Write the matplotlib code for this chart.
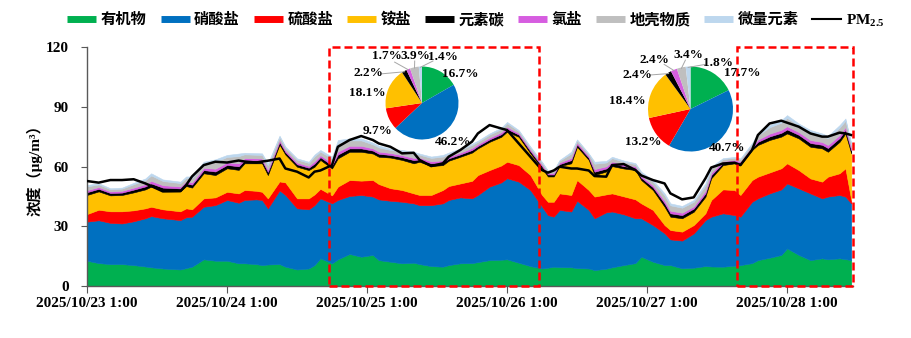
import numpy as np
import matplotlib
matplotlib.use('Agg')
import matplotlib.pyplot as plt
from matplotlib.lines import Line2D
from matplotlib.patches import Rectangle

plt.rcParams['font.family'] = ['Liberation Serif', 'Noto Sans CJK SC']
plt.rcParams['font.weight'] = 'bold'
plt.rcParams['mathtext.fontset'] = 'custom'
plt.rcParams['mathtext.rm'] = 'Liberation Serif:bold'
plt.rcParams['mathtext.bf'] = 'Liberation Serif:bold'

# hours after 2025/10/23 1:00
hours = [0, 2, 4, 6, 8, 10, 11, 13, 16, 17, 18, 20, 22, 24, 26, 27, 29, 30, 31, 33,
         34, 36, 38, 39, 40, 42, 43, 45, 47, 49, 50, 52, 54, 56, 57, 59, 61, 62, 64, 66,
         67, 69, 71, 72, 74, 76, 78, 79, 80, 81, 83, 84, 86, 87, 89, 90, 92, 94, 95, 97,
         99, 100, 102, 104, 106, 107, 109, 111, 112, 114, 115, 117, 119, 120, 122, 124, 126, 127, 129, 130,
         131]

organic = [12.7, 11.5, 11.0, 11.0, 10.5, 9.8, 9.4, 8.8, 8.3, 9.0, 9.7, 13.4, 12.7, 12.7, 11.4, 11.4, 11.0, 10.5, 10.8, 11.0,
           9.7, 8.3, 8.8, 10.5, 13.9, 11.4, 13.4, 16.1, 14.7, 15.6, 13.0, 12.2, 11.4, 11.7, 11.0, 10.0, 9.7, 10.5, 11.4, 11.5,
           12.0, 13.0, 13.2, 13.4, 11.7, 10.0, 8.8, 9.2, 9.7, 9.5, 9.4, 9.0, 8.8, 8.0, 8.7, 9.4, 10.5, 11.5, 14.7, 12.2,
           10.5, 10.5, 8.9, 9.2, 10.0, 9.8, 9.7, 10.2, 10.5, 11.5, 13.0, 14.2, 15.6, 18.9, 15.6, 13.0, 13.9, 13.4, 13.9, 13.5,
           13.0]
nitrate = [19.6, 21.5, 20.7, 20.4, 22.0, 24.2, 25.7, 25.2, 24.8, 25.5, 25.1, 26.4, 27.9, 30.5, 30.4, 31.8, 32.5, 32.7, 28.2, 37.0,
           36.0, 30.7, 29.7, 30.1, 30.1, 30.1, 29.8, 29.1, 31.0, 29.3, 30.5, 30.6, 30.9, 29.8, 29.6, 30.6, 31.8, 32.7, 33.1, 32.5,
           33.7, 36.9, 38.8, 40.7, 40.7, 38.2, 31.0, 26.4, 25.1, 28.7, 28.0, 33.8, 29.4, 26.0, 28.3, 28.0, 25.5, 22.5, 19.3, 18.4,
           16.0, 12.9, 13.9, 17.2, 23.1, 25.0, 26.8, 25.4, 24.3, 30.8, 31.0, 32.3, 32.9, 32.6, 33.4, 33.5, 30.1, 31.5, 31.8, 31.4,
           28.5]
sulfate = [3.8, 5.3, 5.8, 6.1, 5.5, 5.0, 4.7, 4.5, 4.4, 4.5, 3.7, 4.2, 3.9, 4.1, 4.7, 5.0, 4.3, 4.1, 5.0, 4.5,
           6.3, 5.0, 5.5, 5.4, 4.8, 4.0, 6.7, 8.0, 7.2, 8.3, 7.7, 6.3, 5.9, 5.0, 5.1, 5.1, 6.7, 7.0, 7.0, 8.8,
           10.0, 8.3, 8.5, 8.3, 8.3, 7.5, 5.9, 6.7, 7.5, 8.3, 8.3, 10.4, 10.0, 10.9, 9.0, 9.1, 9.0, 9.5, 7.5, 7.6,
           4.1, 4.7, 4.5, 4.2, 3.4, 8.4, 12.0, 12.6, 10.9, 10.9, 10.9, 10.5, 10.6, 10.1, 9.2, 7.5, 8.4, 10.0, 10.9, 14.2,
           1.7]
ammonium = [9.6, 9.2, 8.0, 8.2, 9.0, 9.5, 10.1, 9.4, 10.1, 11.2, 10.9, 12.6, 11.2, 11.8, 11.8, 13.4, 13.8, 14.3, 11.7, 18.5,
            14.0, 15.9, 14.2, 13.9, 14.5, 13.5, 14.2, 14.2, 14.5, 13.3, 13.7, 15.4, 15.1, 15.1, 16.7, 14.5, 12.5, 12.7, 13.4, 14.2,
            13.4, 14.2, 14.4, 15.1, 14.2, 10.9, 13.4, 12.7, 12.7, 13.7, 15.9, 16.7, 15.1, 10.8, 11.5, 13.7, 14.0, 14.7, 11.7, 10.0,
            9.2, 6.7, 6.7, 6.7, 8.3, 10.9, 12.2, 13.4, 15.0, 15.1, 15.9, 16.3, 15.9, 15.0, 15.9, 15.9, 16.7, 12.5, 15.8, 17.5,
            23.4]
ec = [1.4, 1.3, 1.2, 1.2, 1.4, 1.5, 1.6, 1.5, 1.4, 1.4, 1.5, 1.6, 1.8, 1.7, 1.8, 1.5, 1.5, 1.4, 1.6, 1.3,
      1.2, 1.2, 1.2, 1.6, 1.4, 1.6, 1.9, 1.7, 1.7, 1.5, 1.5, 1.3, 1.4, 1.6, 1.2, 1.4, 1.4, 1.2, 1.2, 1.3,
      1.2, 1.2, 1.3, 1.4, 1.1, 1.1, 1.0, 1.0, 1.0, 1.0, 1.6, 1.2, 1.1, 1.7, 1.5, 1.3, 1.2, 1.1, 1.2, 1.4,
      1.7, 1.7, 1.6, 1.6, 1.7, 1.6, 1.1, 1.0, 1.1, 1.1, 1.6, 1.8, 1.9, 2.0, 1.8, 1.9, 1.8, 1.9, 1.9, 1.8,
      1.5]
chloride = [1.0, 0.9, 0.8, 0.9, 1.0, 1.1, 1.3, 1.2, 1.0, 1.0, 1.1, 1.1, 1.4, 1.3, 1.5, 1.1, 1.0, 1.0, 1.1, 1.0,
            0.9, 0.9, 0.9, 1.2, 1.0, 1.1, 1.5, 1.3, 1.3, 1.1, 1.1, 1.0, 1.0, 1.1, 0.9, 1.0, 1.0, 0.9, 0.9, 1.0,
            0.9, 0.9, 1.0, 1.0, 0.8, 0.8, 0.8, 0.7, 0.8, 0.8, 1.1, 0.9, 0.8, 1.3, 1.1, 1.0, 0.9, 0.8, 0.9, 1.0,
            1.3, 1.3, 1.2, 1.1, 1.3, 1.1, 0.8, 0.8, 0.8, 0.8, 1.1, 1.4, 1.5, 1.6, 1.4, 1.5, 1.4, 1.5, 1.5, 1.4,
            1.2]
crustal = [1.9, 1.3, 1.1, 1.1, 1.7, 2.0, 2.7, 2.1, 1.7, 1.7, 2.1, 2.2, 3.4, 2.7, 3.6, 1.9, 1.8, 1.8, 2.3, 1.5,
           1.3, 1.5, 1.5, 2.4, 1.8, 2.3, 4.3, 2.7, 2.7, 2.0, 2.1, 1.5, 1.8, 2.2, 1.4, 1.7, 1.9, 1.4, 1.5, 1.5,
           1.2, 1.5, 1.6, 1.8, 1.0, 1.0, 1.0, 0.9, 1.0, 0.9, 2.2, 1.1, 1.0, 2.7, 1.9, 1.7, 1.3, 1.1, 1.5, 1.8,
           2.7, 2.7, 2.5, 2.3, 2.7, 2.2, 1.1, 1.0, 1.0, 1.1, 2.2, 3.2, 3.6, 4.2, 3.2, 3.7, 3.2, 3.4, 3.7, 3.2,
           1.6]
trace = [0.7, 0.6, 0.5, 0.5, 0.7, 0.9, 1.1, 0.8, 0.7, 0.7, 0.9, 0.9, 1.3, 1.0, 1.3, 0.8, 0.8, 0.8, 0.9, 0.7,
         0.6, 0.6, 0.6, 0.9, 0.8, 0.9, 1.5, 1.0, 1.0, 0.9, 0.9, 0.7, 0.8, 0.9, 0.6, 0.7, 0.8, 0.6, 0.6, 0.7,
         0.6, 0.6, 0.7, 0.7, 0.5, 0.5, 0.4, 0.4, 0.4, 0.4, 0.9, 0.5, 0.4, 1.0, 0.8, 0.7, 0.6, 0.5, 0.6, 0.8,
         1.0, 1.0, 0.9, 0.9, 1.0, 0.9, 0.5, 0.4, 0.5, 0.5, 0.9, 1.1, 1.3, 1.4, 1.1, 1.3, 1.1, 1.2, 1.3, 1.1,
         0.7]
pm25 = [52.7, 51.9, 53.2, 53.2, 53.6, 51.5, 50.2, 47.5, 47.6, 50.7, 55.0, 60.7, 62.4, 62.0, 63.0, 62.5, 62.0, 62.5, 62.9, 64.0,
        59.0, 57.4, 54.5, 57.4, 58.0, 60.7, 69.9, 73.3, 75.3, 73.3, 71.6, 69.9, 66.6, 66.9, 63.3, 60.2, 61.6, 64.9, 68.3, 72.5,
        76.6, 80.8, 79.1, 78.3, 71.6, 64.9, 58.2, 56.9, 58.0, 59.9, 59.0, 59.0, 58.0, 55.2, 54.9, 60.7, 61.2, 58.2, 55.5, 53.2,
        51.5, 46.5, 43.5, 44.5, 54.0, 59.5, 61.5, 61.9, 60.7, 68.3, 75.8, 81.6, 83.0, 82.0, 80.0, 76.6, 75.0, 75.0, 77.0, 76.6,
        75.8]

names = ['有机物', '硝酸盐', '硫酸盐', '铵盐', '元素碳', '氯盐', '地壳物质', '微量元素']
colors = ['#00B050', '#0070C0', '#FF0000', '#FFC000', '#000000', '#D65DE0', '#BFBFBF', '#BDD7EE']

tick_hours = [0, 24, 48, 72, 96, 120]
tick_labels = ['2025/10/23 1:00', '2025/10/24 1:00', '2025/10/25 1:00',
               '2025/10/26 1:00', '2025/10/27 1:00', '2025/10/28 1:00']

# highlighted periods (hours) and their mean composition (%)
boxes = [(41.4, 77.4), (111.5, 131.3)]
pie1_pct = [16.7, 46.2, 9.7, 18.1, 2.2, 1.7, 3.9, 1.4]
pie2_pct = [17.7, 40.7, 13.2, 18.4, 2.4, 2.4, 3.4, 1.8]

fig = plt.figure(figsize=(9.12, 3.38), dpi=100)
ax = fig.add_axes([87 / 912, 52 / 338, 766 / 912, 239 / 338])

polys = ax.stackplot(hours, organic, nitrate, sulfate, ammonium, ec, chloride, crustal, trace,
                     colors=colors, linewidth=0)
for p, c in zip(polys, colors):
    p.set_edgecolor(c)
    p.set_linewidth(0.4)
ax.plot(hours, pm25, color='black', lw=1.8, zorder=4)

for x0, x1 in boxes:
    ax.add_patch(Rectangle((x0, 0), x1 - x0, 120, fill=False, edgecolor='#FF0000',
                           lw=1.8, ls=(0, (3.2, 1.6)), clip_on=False, zorder=6))

ax.set_xlim(0, 131.3)
ax.set_ylim(0, 120)
ax.set_yticks([0, 30, 60, 90, 120])
ax.set_xticks(tick_hours)
ax.set_xticklabels(tick_labels)
ax.tick_params(axis='x', direction='out', length=5, pad=3, labelsize=11, color='#595959')
ax.tick_params(axis='y', direction='out', length=4, pad=9, labelsize=11, color='#595959')
for s in ['top', 'right']:
    ax.spines[s].set_visible(False)
for s in ['left', 'bottom']:
    ax.spines[s].set_color('#595959')
    ax.spines[s].set_linewidth(1)
ax.set_ylabel('浓度（μg/m³）', fontsize=11, fontweight='bold')
ax.yaxis.set_label_coords(-0.058, 0.5)

handles = [Line2D([], [], color=c, lw=5, solid_capstyle='butt') for c in colors]
handles.append(Line2D([], [], color='black', lw=1.5))
labels = names + [r'PM$_{2.5}$']
leg = fig.legend(handles, labels, loc='center', bbox_to_anchor=(0.522, 0.94), ncol=9,
                 frameon=False, fontsize=11, handlelength=1.9, handletextpad=0.3,
                 columnspacing=0.9)


def draw_pie(rect, pct, label_xy, leader_xy):
    pax = fig.add_axes(rect)
    wedges, _ = pax.pie(pct, colors=colors, startangle=90, counterclock=False, radius=1,
                        wedgeprops=dict(linewidth=0))
    pax.set_xlim(-1, 1)
    pax.set_ylim(-1, 1)
    pax.set_aspect('equal')
    pax.axis('off')
    for v, (x, y) in zip(pct, label_xy):
        pax.text(x, y, f'{v}%', ha='center', va='center', fontsize=9.5,
                 fontweight='bold', clip_on=False)
    for w, end in zip(wedges, leader_xy):
        if end is None:
            continue
        a = np.deg2rad((w.theta1 + w.theta2) / 2)
        pax.plot([np.cos(a) * 0.98, end[0]], [np.sin(a) * 0.98, end[1]],
                 color='#A6A6A6', lw=0.7, clip_on=False)


draw_pie([385.5 / 912, 198.5 / 338, 73 / 912, 73 / 338], pie1_pct,
         [(1.04, 0.79), (0.85, -1.07), (-1.23, -0.77), (-1.51, 0.27),
          (-1.48, 0.82), (-0.96, 1.29), (-0.19, 1.29), (0.58, 1.26)],
         [None, None, None, None, (-1.1, 0.8), (-0.75, 1.12), (-0.2, 1.15), (0.3, 1.15)])
draw_pie([648 / 912, 186.5 / 338, 85 / 912, 85 / 338], pie2_pct,
         [(1.21, 0.85), (0.86, -0.92), (-1.12, -0.78), (-1.49, 0.19),
          (-1.24, 0.8), (-0.84, 1.15), (-0.06, 1.27), (0.65, 1.08)],
         [None, None, None, None, (-0.95, 0.8), (-0.62, 1.05), (-0.12, 1.15), (0.35, 1.05)])

fig.savefig('out.png', dpi=100)
